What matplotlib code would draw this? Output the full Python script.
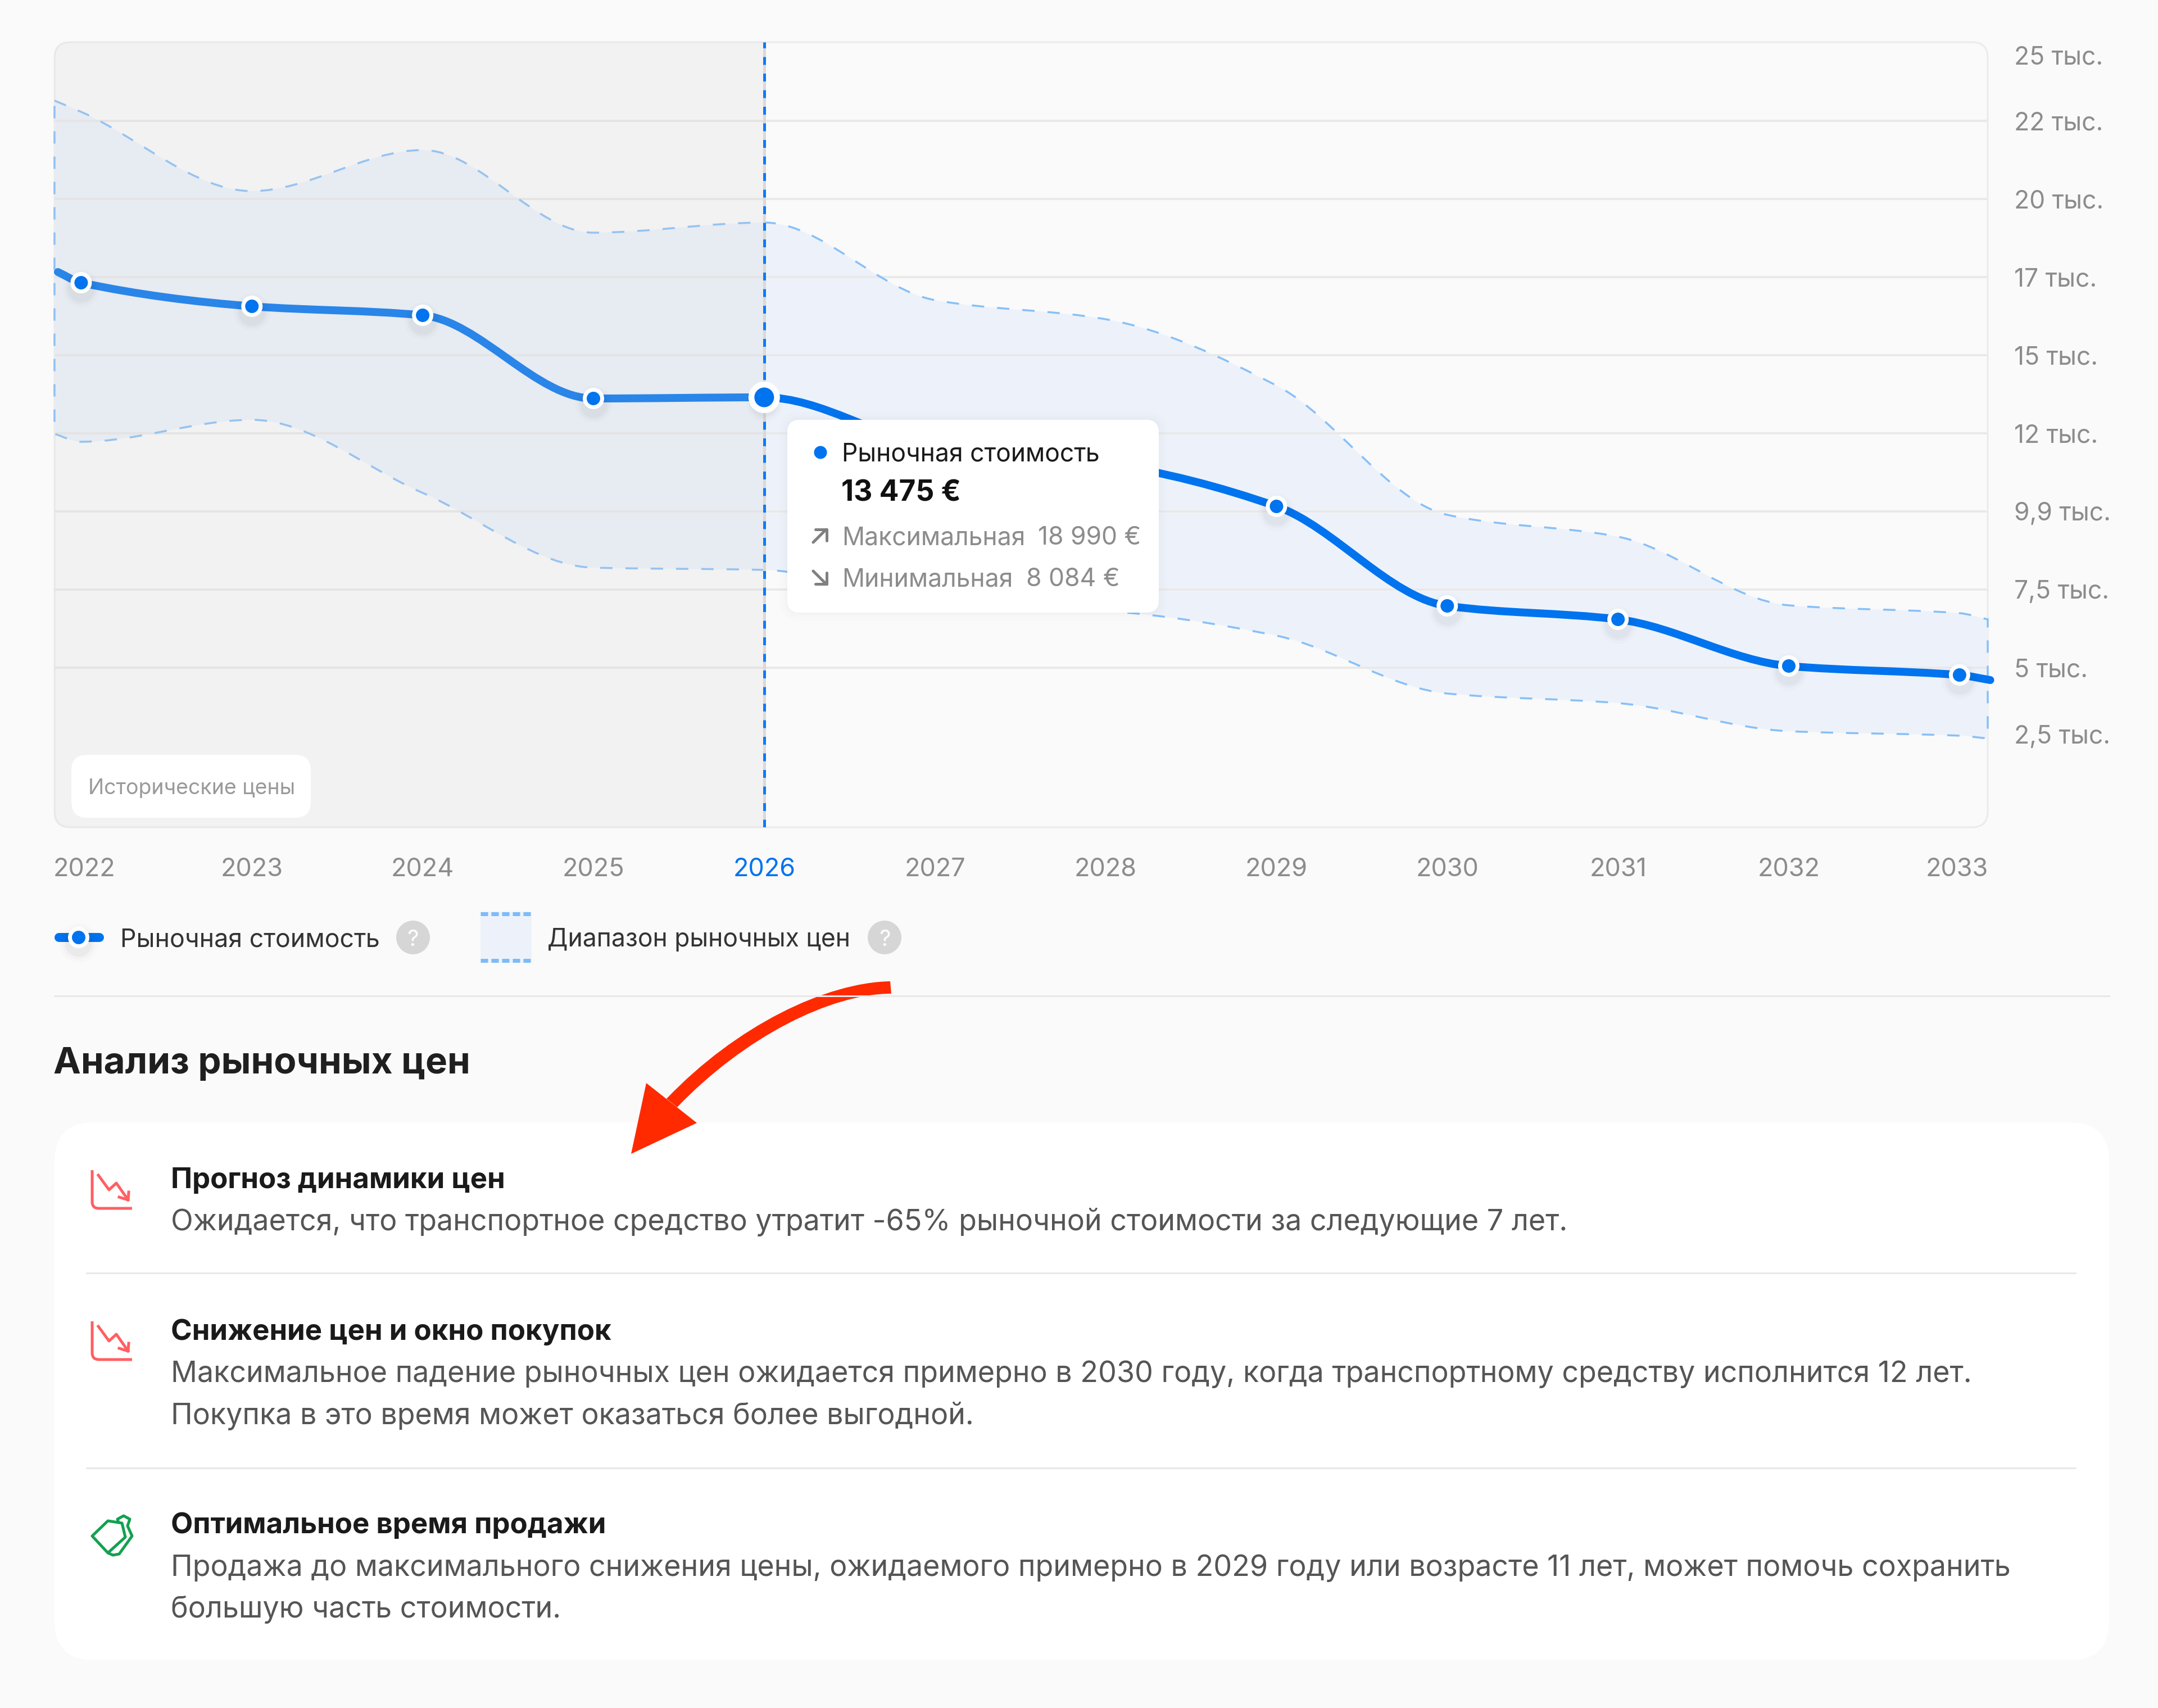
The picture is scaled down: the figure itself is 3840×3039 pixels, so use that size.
import numpy as np
import matplotlib
matplotlib.use("Agg")
import matplotlib.pyplot as plt
from matplotlib.patches import FancyBboxPatch, PathPatch, Polygon, Circle, Rectangle
from matplotlib.path import Path
from matplotlib.transforms import ScaledTranslation

plt.rcParams['font.family'] = ['Inter', 'DejaVu Sans']
plt.rcParams['lines.scale_dashes'] = False

W, H = 3840, 3039
PT = 0.72  # px -> pt at dpi 100

# данные графика
years = [2022, 2023, 2024, 2025, 2026, 2027, 2028, 2029, 2030, 2031, 2032, 2033]
year_labels = [str(y) for y in years]
x_start = 2021.844
x_end = 2033.165
current_year = 2026

market = [17662, 17320, 16565, 16277, 13615, 13651, 12068, 11529, 10162, 6978, 6547, 5054, 4766, 4604]
upper = [23147, 22788, 20252, 21565, 18921, 19245, 16763, 16151, 14029, 9892, 9191, 6996, 6745, 6547]
lower = [12482, 12230, 12932, 10594, 8201, 8129, 7068, 6817, 6025, 4173, 3867, 2968, 2824, 2734]

grid_values = [22500, 20000, 17500, 15000, 12500, 10000, 7500, 5000]
y_label_values = [24604, 22500, 20000, 17500, 15000, 12500, 10000, 7500, 5000, 2860]
y_labels = ["25 тыс.", "22 тыс.", "20 тыс.", "17 тыс.", "15 тыс.", "12 тыс.", "9,9 тыс.", "7,5 тыс.", "5 тыс.", "2,5 тыс."]

BLUE = "#0073EE"
GREY = "#8C8C8C"
DASH = "#88C0F8"
BG = "#FAFAFA"


def slopes(x, y):
    d = np.diff(y) / np.diff(x)
    m = np.zeros(len(x))
    m[0] = d[0]
    m[-1] = d[-1]
    for i in range(1, len(x) - 1):
        if d[i - 1] * d[i] > 0:
            m[i] = 2 * d[i - 1] * d[i] / (d[i - 1] + d[i])
    return m


def curve(x, y, first=Path.MOVETO):
    # кривая Безье через точки
    x = np.array(x, dtype=float)
    y = np.array(y, dtype=float)
    m = slopes(x, y)
    verts = [(x[0], y[0])]
    codes = [first]
    for i in range(len(x) - 1):
        h = x[i + 1] - x[i]
        verts += [(x[i] + h / 3, y[i] + m[i] * h / 3),
                  (x[i + 1] - h / 3, y[i + 1] - m[i + 1] * h / 3),
                  (x[i + 1], y[i + 1])]
        codes += [Path.CURVE4] * 3
    return verts, codes


fig = plt.figure(figsize=(W / 100, H / 100), dpi=100, facecolor=BG)


def px_axes(z):
    a = fig.add_axes([0, 0, 1, 1], zorder=z)
    a.set_xlim(0, W)
    a.set_ylim(H, 0)
    a.axis("off")
    return a


bg = px_axes(0)
top = px_axes(5)


def label(a, x, yc, s, size, color="#1A1A1A", weight="normal", ha="left"):
    a.text(x, yc + 0.36 * size, s, fontsize=size * PT, color=color, fontweight=weight, ha=ha, va="baseline")


# рамка графика
box_l, box_r, box_t, box_b = 97, 3537, 75, 1472
box = FancyBboxPatch((box_l, box_t), box_r - box_l, box_b - box_t, boxstyle="round,pad=0,rounding_size=28",
                     fc=BG, ec="#EBEBEB", lw=3 * PT)
bg.add_patch(box)

ax = fig.add_axes([box_l / W, 1 - box_b / H, (box_r - box_l) / W, (box_b - box_t) / H], zorder=2)
ax.patch.set_visible(False)
for s in ax.spines.values():
    s.set_visible(False)
ax.set_xlim(x_start, x_end)
ax.set_ylim(-108, 25018)

x_knots = [x_start] + years + [x_end]

# диапазон цен
v1, c1 = curve(x_knots, upper)
v2, c2 = curve(x_knots[::-1], lower[::-1], first=Path.LINETO)
band_path = Path(v1 + v2 + [v1[0]], c1 + c2 + [Path.CLOSEPOLY])
ax.add_patch(PathPatch(band_path, fc="#EDF2FA", ec="none", zorder=1))
ax.hlines(grid_values, x_start, x_end + 0.01, color="#E9E9EA", lw=4 * PT, zorder=2)
ax.add_patch(PathPatch(band_path, fc="none", ec=DASH, lw=3.5 * PT, ls=(0, (22 * PT, 23 * PT)), zorder=2.5, clip_on=False))

# рыночная стоимость
v3, c3 = curve([x_start + 0.02] + years + [x_end + 0.015], market)
ax.add_patch(PathPatch(Path(v3, c3), fc="none", ec=BLUE, lw=14 * PT, capstyle="round", zorder=3, clip_on=False))

# исторический период
span = ax.axvspan(x_start, current_year, color="#D2D2D2", alpha=0.2, lw=0, zorder=4)
span.set_clip_path(box)

ax.axvline(current_year, color="#D9D9D9", lw=5 * PT, zorder=4.5)
ax.axvline(current_year, color="#0A7CF7", lw=5 * PT, ls=(0, (14 * PT, 15.5 * PT)), zorder=5)

values_at_years = market[1:-1]
for d, a in [(66, 0.012), (56, 0.018), (48, 0.025)]:
    ax.scatter(years, np.array(values_at_years) - 180, s=(d * PT) ** 2, color="k", alpha=a, lw=0, zorder=5.5)
sizes = [(56, 35) if y == current_year else (38, 24) for y in years]
ax.scatter(years, values_at_years, s=[(o * PT) ** 2 for o, i in sizes], color="white", lw=0, zorder=6)
ax.scatter(years, values_at_years, s=[(i * PT) ** 2 for o, i in sizes], color=BLUE, lw=0, zorder=7)

# оси
ax.yaxis.tick_right()
ax.set_yticks(y_label_values, y_labels)
ax.tick_params(axis="y", length=0, pad=47 * PT, labelsize=44.5 * PT, labelcolor=GREY)
ax.set_xticks(years, year_labels)
ax.tick_params(axis="x", length=0, pad=54 * PT, labelsize=45 * PT, labelcolor=GREY)
ticklabels = ax.get_xticklabels()
ticklabels[years.index(current_year)].set_color(BLUE)
# крайние подписи прижаты к рамке
ticklabels[0].set_transform(ticklabels[0].get_transform() + ScaledTranslation(6 / 100, 0, fig.dpi_scale_trans))
ticklabels[-1].set_transform(ticklabels[-1].get_transform() + ScaledTranslation(-5 / 100, 0, fig.dpi_scale_trans))

# подпись "Исторические цены"
top.add_patch(FancyBboxPatch((127, 1343), 426, 112, boxstyle="round,pad=0,rounding_size=28", fc="white", ec="none"))
label(top, 157, 1400, "Исторические цены", 37.5, "#9A9A9A")

# подсказка
for grow, a in [(14, 0.006), (8, 0.008), (3, 0.012)]:
    top.add_patch(FancyBboxPatch((1401 - grow, 747 - grow), 661 + 2 * grow, 343 + 2 * grow,
                                 boxstyle="round,pad=0,rounding_size=%d" % (22 + grow), fc="k", alpha=a, ec="none"))
top.add_patch(FancyBboxPatch((1401, 747), 661, 343, boxstyle="round,pad=0,rounding_size=22", fc="white", ec="none"))
top.add_patch(Circle((1460, 805), 11.5, fc=BLUE, ec="none"))
label(top, 1498, 804, "Рыночная стоимость", 44.5, "#1A1A1A")
label(top, 1497, 873, "13 475 €", 51.5, "#111111", weight="bold")
label(top, 1498, 953, "Максимальная", 44.5, GREY)
label(top, 1847, 953, "18 990 €", 44.5, GREY)
label(top, 1498, 1027, "Минимальная", 44.5, GREY)
label(top, 1826, 1027, "8 084 €", 44.5, GREY)
for pts in ([(1447, 965), (1470, 942)], [(1451, 942), (1471, 942)], [(1471, 942), (1471, 962)]):
    top.plot(*zip(*pts), color="#808080", lw=5 * PT, solid_capstyle="round")
for pts in ([(1447, 1016), (1470, 1039)], [(1451, 1039), (1471, 1039)], [(1471, 1039), (1471, 1019)]):
    top.plot(*zip(*pts), color="#808080", lw=5 * PT, solid_capstyle="round")

# легенда
top.plot([105, 177], [1668, 1668], color=BLUE, lw=16 * PT, solid_capstyle="round", zorder=1)
for d, a in [(70, 0.012), (58, 0.02), (48, 0.03)]:
    top.add_patch(Circle((140, 1678), d / 2, fc="k", alpha=a, ec="none", zorder=1.5))
top.add_patch(Circle((140, 1668), 19, fc="white", ec="none", zorder=2))
top.add_patch(Circle((140, 1668), 12, fc=BLUE, ec="none", zorder=3))
label(top, 214, 1668, "Рыночная стоимость", 44.7, "#333333")
top.add_patch(Rectangle((855, 1622), 91, 91, fc="#EDF2FA", ec="none"))
top.plot([855, 946], [1626, 1626], color="#7DBBF7", lw=7 * PT, ls=(0, (13 * PT, 6 * PT)))
top.plot([855, 946], [1709, 1709], color="#7DBBF7", lw=7 * PT, ls=(0, (13 * PT, 6 * PT)))
label(top, 974, 1668, "Диапазон рыночных цен", 44.5, "#333333")
for cx in (735, 1574):
    top.add_patch(Circle((cx, 1668), 30, fc="#D6D6D6", ec="none"))
    top.text(cx, 1668 + 15, "?", fontsize=40 * PT, color="white", ha="center", va="baseline")

top.plot([97, 3753], [1772, 1772], color="#E8E8E8", lw=3 * PT)

label(top, 95, 1886, "Анализ рыночных цен", 65.5, "#1F1F1F", weight="bold")

# карточка
bg.add_patch(FancyBboxPatch((97, 1997), 3656, 957, boxstyle="round,pad=0,rounding_size=70", fc="white", ec="none"))
for y in (2265, 2612):
    top.plot([154, 3693], [y, y], color="#E8E8E8", lw=3 * PT)

titles = ["Прогноз динамики цен", "Снижение цен и окно покупок", "Оптимальное время продажи"]
title_y = [2096, 2366, 2710]
body = [["Ожидается, что транспортное средство утратит -65% рыночной стоимости за следующие 7 лет."],
        ["Максимальное падение рыночных цен ожидается примерно в 2030 году, когда транспортному средству исполнится 12 лет.",
         "Покупка в это время может оказаться более выгодной."],
        ["Продажа до максимального снижения цены, ожидаемого примерно в 2029 году или возрасте 11 лет, может помочь сохранить",
         "большую часть стоимости."]]
body_y = [[2170], [2440, 2515], [2785, 2859]]
for t, ty, lines, ys in zip(titles, title_y, body, body_y):
    label(top, 304, ty, t, 51, "#1A1A1A", weight="bold")
    for s, y in zip(lines, ys):
        label(top, 304, y, s, 52, "#555555")

# значки
RED = "#FF5F63"
for dy in (0, 269):
    axis_path = Path([(164, 2082 + dy), (164, 2138 + dy), (164, 2150 + dy), (176, 2150 + dy), (235, 2150 + dy)],
                     [Path.MOVETO, Path.LINETO, Path.CURVE3, Path.CURVE3, Path.LINETO])
    top.add_patch(PathPatch(axis_path, fc="none", ec=RED, lw=5 * PT))
    top.plot([175, 194, 207, 228], [2091 + dy, 2117 + dy, 2105 + dy, 2135 + dy], color=RED, lw=5 * PT)
    top.plot([229, 228, 212], [2121 + dy, 2135 + dy, 2130 + dy], color=RED, lw=5 * PT)

GREEN = "#12A150"
back_tag = [(212, 2712), (209, 2703), (220, 2697), (231, 2703), (227, 2715), (235, 2733), (212, 2765), (201, 2767), (192, 2763)]
front_tag = [(164, 2733), (192, 2706), (217, 2710), (223, 2735), (192, 2763)]
top.add_patch(Polygon(back_tag, closed=False, fc="none", ec=GREEN, lw=5 * PT, joinstyle="round"))
top.add_patch(Polygon(front_tag, closed=True, fc="white", ec=GREEN, lw=5 * PT, joinstyle="round"))

# красная стрелка
arrow_verts = [(1584, 1746), (1470, 1748), (1310, 1825), (1186, 1955),
               (1205, 1970),
               (1325, 1845), (1478, 1768), (1586, 1768),
               (1584, 1746)]
arrow_codes = [Path.MOVETO, Path.CURVE4, Path.CURVE4, Path.CURVE4,
               Path.LINETO,
               Path.CURVE4, Path.CURVE4, Path.CURVE4,
               Path.CLOSEPOLY]
top.add_patch(PathPatch(Path(arrow_verts, arrow_codes), fc="#FF2A00", ec="none"))
top.add_patch(Polygon([(1123, 2053), (1150, 1927), (1240, 1998)], closed=True, fc="#FF2A00", ec="none"))

fig.savefig("out.png", dpi=100, facecolor=BG)
